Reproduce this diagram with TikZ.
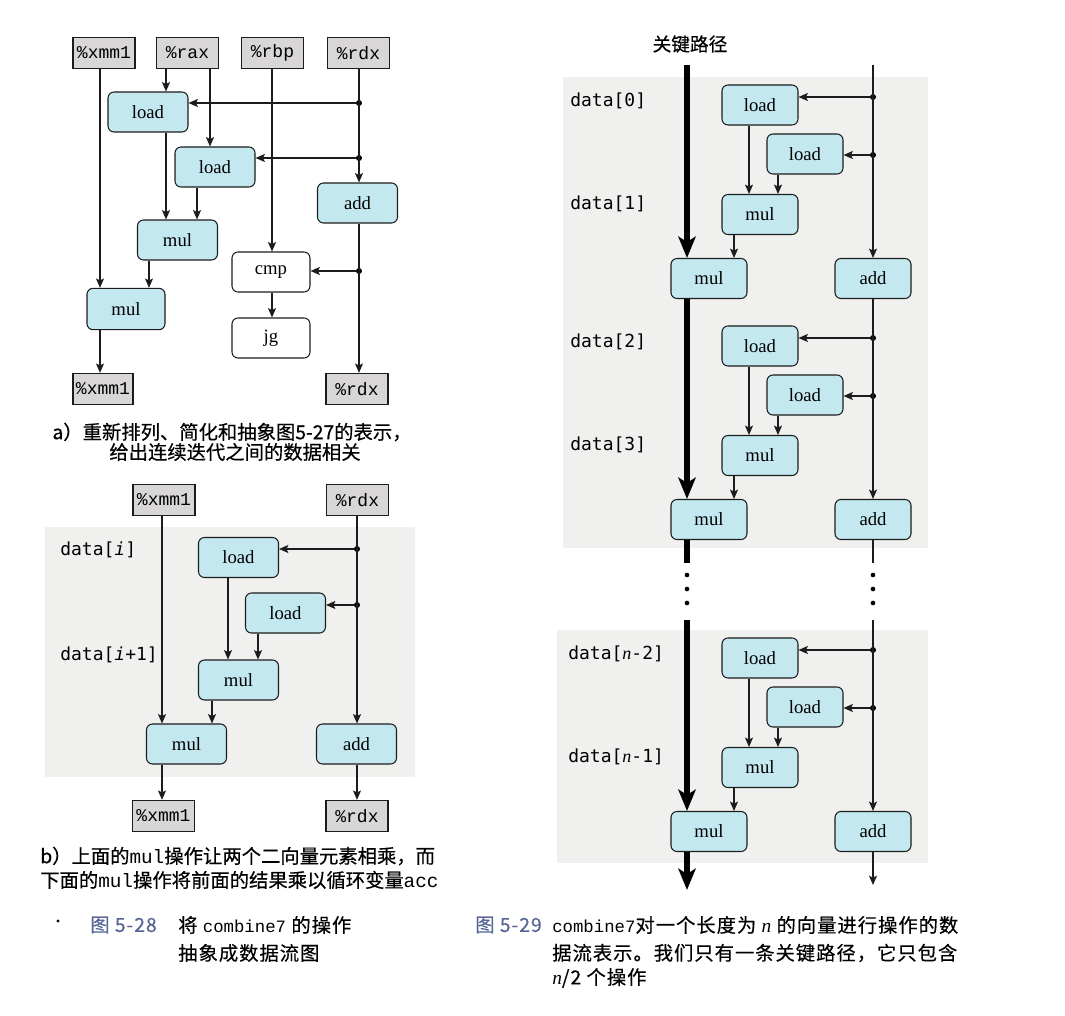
\documentclass[tikz,border=0pt]{standalone}
\usepackage{fontspec}
\setmainfont{Liberation Serif}
\newfontfamily\cjk{Noto Sans CJK SC}[FakeBold=0.5]
\newfontfamily\cjkcap{Noto Sans CJK SC}[LetterSpace=5,FakeBold=0.4]
\newfontfamily\regfont{Liberation Mono}
\newfontfamily\datafont{DejaVu Sans Mono}
\usetikzlibrary{arrows.meta,calc}

\definecolor{opfill}{RGB}{196,232,240}
\definecolor{regfill}{RGB}{216,214,214}
\definecolor{bgfill}{RGB}{240,240,239}
\definecolor{linec}{RGB}{28,28,28}
\definecolor{figblue}{RGB}{88,102,150}

\tikzset{
  op/.style={draw=linec, line width=0.8pt, rounded corners=4.5pt, fill=opfill,
    minimum width=60pt, minimum height=30pt, inner sep=0pt,
    font=\fontsize{14}{16}\selectfont},
  opw/.style={op, fill=white},
  reg/.style={draw=linec, line width=0.8pt, fill=regfill, minimum width=46.5pt,
    minimum height=23.5pt, inner sep=0pt, font=\regfont\fontsize{13.5}{15}\selectfont},
  arr/.style={draw=linec, line width=0.8pt, -{Stealth[length=7pt,width=6pt,inset=1.5pt]}},
  ln/.style={draw=linec, line width=0.8pt},
  crit/.style={draw=black, line width=3.8pt},
  critarr/.style={crit, -{Stealth[length=16pt,width=13pt,inset=4pt]}},
  jdot/.style={circle, fill=black, inner sep=0pt, minimum size=4.5pt},
  vdot/.style={circle, fill=black, inner sep=0pt, minimum size=3.5pt},
  lbl/.style={anchor=west, inner sep=0pt, font=\datafont\fontsize{13.5}{15}\selectfont},
  capa/.style={inner sep=0pt, font=\cjk\fontsize{14.5}{17}\selectfont},
  captxt/.style={anchor=west, inner sep=0pt, font=\cjkcap\fontsize{14.5}{17}\selectfont},
  bg/.style={fill=bgfill, draw=none},
}

\begin{document}
\begin{tikzpicture}[x=0.75pt,y=-0.75pt]
\useasboundingbox (0,0) rectangle (1065,1016);

% ---------- (a) rearranged loop body ----------
\node[reg] (xa) at (104,53) {\%xmm1};
\node[reg] (ra) at (187.5,53) {\%rax};
\node[reg] (pa) at (272.5,53) {\%rbp};
\node[reg] (da) at (358.5,53) {\%rdx};
\node[op] (lA1) at (148,112) {load};
\node[op] (lA2) at (215,167) {load};
\node[op] (adA) at (357.5,203) {add};
\node[op] (mA1) at (177.5,240) {mul};
\node[opw, minimum width=58.5pt] (cmpA) at (271,272) {cmp};
\node[opw, minimum width=58.5pt] (jgA) at (271,338) {jg};
\node[op, minimum width=58.5pt, minimum height=31pt] (mA2) at (126,309) {mul};
\node[reg, minimum width=45pt] (xa2) at (103,389) {\%xmm1};
\node[reg] (da2) at (357,389) {\%rdx};
\node[jdot] (jA1) at (359,103) {};
\node[jdot] (jA2) at (359,158) {};
\node[jdot] (jA3) at (359,271) {};

\draw[arr] (xa.south -| 100,0) -- (mA2.north -| 100,0);
\draw[arr] (ra.south -| 166,0) -- (lA1.north -| 166,0);
\draw[arr] (ra.south -| 210,0) -- (lA2.north -| 210,0);
\draw[arr] (pa.south -| 272,0) -- (cmpA.north -| 272,0);
\draw[arr] (da.south -| 359,0) -- (adA.north -| 359,0);
\draw[arr] (jA1) -- (jA1 -| lA1.east);
\draw[arr] (jA2) -- (jA2 -| lA2.east);
\draw[arr] (lA1.south -| 166,0) -- (mA1.north -| 166,0);
\draw[arr] (lA2.south -| 197,0) -- (mA1.north -| 197,0);
\draw[arr] (mA1.south -| 149,0) -- (mA2.north -| 149,0);
\draw[arr] (mA2.south -| 100,0) -- (xa2.north -| 100,0);
\draw[arr] (adA.south -| 359,0) -- (da2.north -| 359,0);
\draw[arr] (jA3) -- (jA3 -| cmpA.east);
\draw[arr] (cmpA.south -| 272,0) -- (jgA.north -| 272,0);

\node[capa] (capA1) at (232,432) {a）重新排列、简化和抽象图5-27的表示，};
\node[capa] (capA2) at (235,452) {给出连续迭代之间的数据相关};

% ---------- (b) two-element pipeline ----------
\fill[bg] (45,527) rectangle (415,777);
\node[reg] (xb) at (164,500) {\%xmm1};
\node[reg] (db) at (357.5,500) {\%rdx};
\node[lbl] (di0) at (60,550) {data[{\itshape i}]};
\node[lbl] (di1) at (60,655) {data[{\itshape i}+1]};
\node[op] (lB1) at (238.5,557.5) {load};
\node[op] (lB2) at (285.5,613) {load};
\node[op] (mB1) at (238.5,680) {mul};
\node[op] (mB2) at (186.5,744) {mul};
\node[op] (adB) at (356.5,744) {add};
\node[reg] (xb2) at (163.5,816) {\%xmm1};
\node[reg] (db2) at (357,816) {\%rdx};
\node[jdot] (jB1) at (357,549) {};
\node[jdot] (jB2) at (357,605) {};

\draw[arr] (xb.south -| 162,0) -- (mB2.north -| 162,0);
\draw[arr] (db.south -| 357,0) -- (adB.north -| 357,0);
\draw[arr] (jB1) -- (jB1 -| lB1.east);
\draw[arr] (jB2) -- (jB2 -| lB2.east);
\draw[arr] (lB1.south -| 228,0) -- (mB1.north -| 228,0);
\draw[arr] (lB2.south -| 258,0) -- (mB1.north -| 258,0);
\draw[arr] (mB1.south -| 212,0) -- (mB2.north -| 212,0);
\draw[arr] (mB2.south -| 162,0) -- (xb2.north -| 162,0);
\draw[arr] (adB.south -| 357,0) -- (db2.north -| 357,0);

\node[capa, anchor=west] (capB1) at (40,856) {b）上面的{\regfont mul}操作让两个二向量元素相乘，而};
\node[capa, anchor=west] (capB2) at (40,880) {下面的{\regfont mul}操作将前面的结果乘以循环变量{\regfont acc}};

% ---------- figure 5-28 caption ----------
\node[vdot, minimum size=2.5pt] (spk) at (58,921) {};
\node[captxt, text=figblue] (f28) at (90,925) {图 5-28};
\node[captxt] (f28a) at (178,925) {将 {\regfont\fontsize{13}{17}\selectfont combine7} 的操作};
\node[captxt] (f28b) at (178,953) {抽象成数据流图};

% ---------- figure 5-29: n-element data flow ----------
\node[capa, font=\cjk\fontsize{14}{16}\selectfont] (crit) at (690,44) {关键路径};
\fill[bg] (563,77) rectangle (928,548);
\fill[bg] (557,630) rectangle (928,863);

\foreach \k/\dy in {1/0,2/241,3/553}{
  \node[op, minimum width=57pt] (la\k) at (760,105+\dy) {load};
  \node[op, minimum width=57pt] (lb\k) at (805,154+\dy) {load};
  \node[op, minimum width=57pt] (ms\k) at (760,214.5+\dy) {mul};
  \node[op, minimum width=57pt] (mb\k) at (709,278.5+\dy) {mul};
  \node[op, minimum width=57pt] (ad\k) at (873,278.5+\dy) {add};
  \node[jdot] (ja\k) at (873,97+\dy) {};
  \node[jdot] (jb\k) at (873,155+\dy) {};
  \draw[arr] (ja\k) -- (ja\k -| la\k.east);
  \draw[arr] (jb\k) -- (jb\k -| lb\k.east);
  \draw[arr] (la\k.south -| 749,0) -- (ms\k.north -| 749,0);
  \draw[arr] (lb\k.south -| 778,0) -- (ms\k.north -| 778,0);
  \draw[arr] (ms\k.south -| 734,0) -- (mb\k.north -| 734,0);
}

\node[lbl] (d0) at (570,101) {data[0]};
\node[lbl] (d1) at (570,204) {data[1]};
\node[lbl] (d2) at (570,342) {data[2]};
\node[lbl] (d3) at (570,445) {data[3]};
\node[lbl] (dn2) at (568,654) {data[{\rmfamily\itshape n}-2]};
\node[lbl] (dn1) at (568,757) {data[{\rmfamily\itshape n}-1]};

% critical path and the counter path
\coordinate (ctop) at (687,65);
\coordinate (cend) at (687,563);
\coordinate (cres) at (687,620);
\coordinate (cout) at (687,890);
\coordinate (ttop) at (873,65);
\coordinate (tend) at (873,563);
\coordinate (tres) at (873,620);
\coordinate (tout) at (873,885);

\draw[critarr] (ctop) -- (mb1.north -| ctop);
\draw[critarr] (mb1.south -| ctop) -- (mb2.north -| ctop);
\draw[crit] (mb2.south -| ctop) -- (cend);
\draw[critarr] (cres) -- (mb3.north -| ctop);
\draw[critarr] (mb3.south -| ctop) -- (cout);

\draw[arr] (ttop) -- (ad1.north);
\draw[arr] (ad1.south) -- (ad2.north);
\draw[ln] (ad2.south) -- (tend);
\draw[arr] (tres) -- (ad3.north);
\draw[arr] (ad3.south) -- (tout);

\foreach \y [count=\i] in {575,589,603}{
  \node[vdot] (vc\i) at (687,\y) {};
  \node[vdot] (vt\i) at (873,\y) {};
}

% ---------- figure 5-29 caption ----------
\node[captxt, text=figblue] (f29) at (475,925) {图 5-29};
\node[captxt] (f29a) at (552,925) {{\regfont\fontsize{13}{17}\selectfont combine7}对一个长度为 {\rmfamily\itshape n} 的向量进行操作的数};
\node[captxt] (f29b) at (552,953) {据流表示。我们只有一条关键路径，它只包含};
\node[captxt] (f29c) at (552,978) {{\rmfamily\itshape n}/2 个操作};
\end{tikzpicture}
\end{document}
